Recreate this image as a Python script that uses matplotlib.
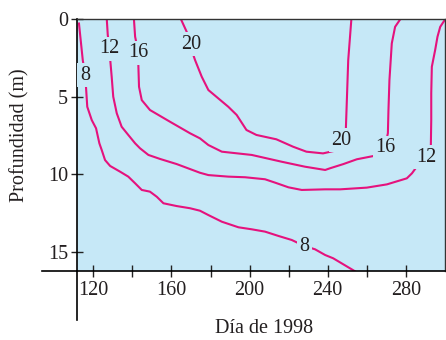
import matplotlib
matplotlib.use("Agg")
import matplotlib.pyplot as plt

# Isotherm traces (day of year, depth in m)
iso8_day = [112.6, 114.6, 115.7, 116.3, 116.9, 119.2, 121.4, 123.1, 124.3, 126.0, 128.6, 133.7, 137.9,
            141.4, 144.8, 149.0, 152.5, 155.9, 162.7, 169.5, 174.6, 178.9, 185.8, 194.3, 201.1, 207.9,
            214.8, 221.6, 228.1, 233.5, 238.7, 242.8, 254.5]
iso8_depth = [0.2, 2.63, 3.46, 4.45, 5.64, 6.5, 7.03, 8.0, 8.43, 9.08, 9.46, 9.83, 10.15,
              10.58, 11.01, 11.12, 11.45, 11.87, 12.05, 12.19, 12.35, 12.63, 13.06, 13.42, 13.55, 13.70,
              13.98, 14.24, 14.63, 14.84, 15.21, 15.42, 16.3]

iso12_day = [126.9, 127.4, 128.2, 128.6, 129.4, 130.2, 132.0, 134.5, 137.9, 141.4, 143.9, 148.2, 154.2,
             162.7, 174.6, 178.9, 189.1, 197.7, 207.9, 213.1, 219.9, 226.7, 238.7, 246.4, 260.0, 270.3,
             280.5, 283.1, 285.6, 287.7, 290.4, 292.8, 293.0, 293.0, 293.3, 295.0, 296.2, 297.6, 300.1]
iso12_depth = [0.0, 1.01, 1.81, 2.52, 3.70, 4.99, 6.06, 6.93, 7.46, 8.0, 8.32, 8.75, 9.01,
               9.34, 9.90, 10.05, 10.15, 10.19, 10.32, 10.54, 10.84, 11.01, 10.97, 10.97, 10.86, 10.65,
               10.26, 9.94, 9.51, 9.40, 8.75, 8.11, 6.50, 4.77, 3.06, 1.98, 1.12, 0.48, 0.0]

iso16_day = [140.8, 141.4, 143.0, 143.0, 143.4, 144.8, 149.0, 159.3, 169.5, 174.6, 178.9, 185.8, 201.1,
             216.5, 228.4, 238.7, 241.2, 248.0, 254.9, 263.4, 269.3, 270.8, 271.1, 271.6, 272.8, 274.5, 277.1]
iso16_depth = [0.0, 1.12, 2.09, 2.74, 4.35, 5.21, 5.85, 6.61, 7.35, 7.68, 8.11, 8.54, 8.75,
               9.19, 9.51, 9.72, 9.61, 9.34, 9.03, 8.82, 8.24, 7.35, 5.85, 3.92, 1.55, 0.48, 0.0]

iso20_day = [164.9, 167.8, 170.0, 171.2, 172.1, 175.5, 178.9, 184.0, 189.1, 193.4, 198.4, 203.5, 213.7,
             222.3, 229.1, 237.6, 243.6, 247.1, 249.3, 249.8, 250.5, 252.1]
iso20_depth = [0.0, 0.80, 1.55, 2.30, 2.63, 3.70, 4.56, 5.10, 5.64, 6.17, 7.14, 7.46, 7.74,
               8.22, 8.54, 8.65, 8.48, 7.72, 7.03, 5.21, 2.63, 0.0]

# Contour labels: (text, day, depth)
label_text = ["8", "8", "12", "12", "16", "16", "20", "20"]
label_day = [115.7, 228.1, 128.2, 290.4, 143.0, 269.6, 170.3, 247.1]
label_depth = [3.6, 14.63, 1.9, 8.9, 2.15, 8.3, 1.6, 7.8]

x_ticks = [120, 140, 160, 180, 200, 220, 240, 260, 280]
x_ticklabels = ["120", "", "160", "", "200", "", "240", "", "280"]
y_ticks = [0, 5, 10, 15]
y_ticklabels = ["0", "5", "10", "15"]

BG = "#C6E8F7"
LINE = "#E5127D"
TXT = "#231F20"
FONT = ["Liberation Serif", "DejaVu Serif"]

plt.rcParams["font.family"] = FONT

fig = plt.figure(figsize=(4.46, 3.40), dpi=100)
ax = fig.add_axes([0.172, 0.203, 0.826, 0.740])
ax.set_facecolor(BG)

for d, z in [(iso8_day, iso8_depth), (iso12_day, iso12_depth),
             (iso16_day, iso16_depth), (iso20_day, iso20_depth)]:
    ax.plot(d, z, color=LINE, lw=1.5, solid_capstyle="butt", solid_joinstyle="round")

for t, d, z in zip(label_text, label_day, label_depth):
    ax.text(d, z, t, ha="center", va="center", fontsize=14.5, color=TXT,
            bbox=dict(boxstyle="square,pad=0.12", fc=BG, ec="none"))

ax.set_xlim(111.5, 300.1)
ax.set_ylim(16.24, 0)

ax.set_xticks(x_ticks)
ax.set_xticklabels(x_ticklabels)
ax.set_yticks(y_ticks)
ax.set_yticklabels(y_ticklabels)
ax.tick_params(axis="both", direction="inout", length=8.5, width=1.0, color="#222222",
               labelsize=14.5, labelcolor=TXT)
ax.tick_params(axis="x", pad=3)
ax.tick_params(axis="y", pad=2)

for s in ["left", "bottom"]:
    ax.spines[s].set_color("black")
    ax.spines[s].set_linewidth(1.2)
for s in ["top", "right"]:
    ax.spines[s].set_color("#333333")
    ax.spines[s].set_linewidth(1.0)

# extended axis lines
ax.plot([-0.094, 0], [0, 0], transform=ax.transAxes, clip_on=False, color="black", lw=1.2)
ax.plot([0, 0], [-0.195, 0], transform=ax.transAxes, clip_on=False, color="black", lw=1.2)

fig.text(0.592, 0.033, "Día de 1998", ha="center", va="center", fontsize=14.5, color=TXT)
fig.text(0.045, 0.603, "Profundidad (m)", ha="center", va="center", rotation=90,
         fontsize=14.5, color=TXT)

fig.savefig("out.png", dpi=100)
